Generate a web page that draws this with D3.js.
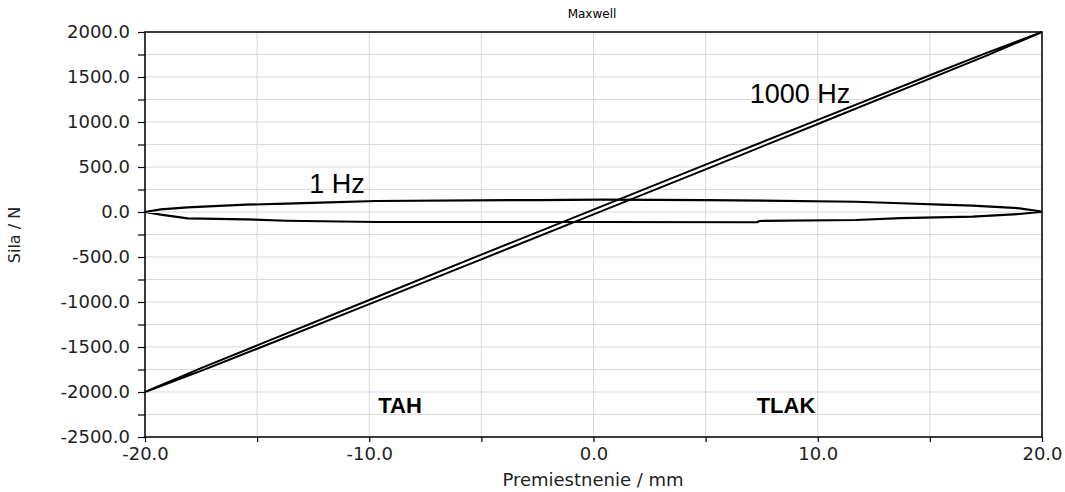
<!DOCTYPE html>
<html>
<head>
<meta charset="utf-8">
<script src="https://cdn.jsdelivr.net/npm/d3@7"></script>
<style>
  body { margin: 0; background: #fff; }
  svg { display: block; }
</style>
</head>
<body>
<svg id="chart" width="1065" height="492"></svg>
<script>
// 1 Hz loop (upper branch left->right, lower branch right->left)
const loop1Upper = [
  [-20, 0], [-19.3, 30], [-18.1, 52], [-15.5, 81], [-13.7, 92], [-11.8, 108],
  [-9.7, 122], [-2.5, 133], [0.3, 137], [5.0, 133], [11.7, 114], [13.7, 97],
  [15.5, 81], [16.9, 70], [19.0, 41], [19.9, 8], [20, 0]
];
const loop1Lower = [
  [20, 0], [19.9, 0], [19.0, -22], [16.9, -52], [13.7, -67], [11.7, -89],
  [7.4, -100], [7.3, -114], [0.3, -111], [-9.7, -111], [-13.7, -97],
  [-15.5, -81], [-18.1, -70], [-19.3, -30], [-20, 0]
];

// 1000 Hz loop: nearly a straight line with a thin opening
const loop1000Upper = [
  [-20, -2000], [-17.5, -1735], [-15, -1482], [-10, -978], [-5, -474],
  [0, 26], [5, 526], [10, 1024], [15, 1519], [17.5, 1765], [20, 2000]
];
const loop1000Lower = [
  [20, 2000], [17.5, 1735], [15, 1482], [10, 978], [5, 474],
  [0, -26], [-5, -526], [-10, -1024], [-15, -1519], [-17.5, -1765], [-20, -2000]
];

const xTicks = [-20, -10, 0, 10, 20];
const xMinor = [-15, -5, 5, 15];
const yTicks = [2000, 1500, 1000, 500, 0, -500, -1000, -1500, -2000, -2500];
const yMinor = [1750, 1250, 750, 250, -250, -750, -1250, -1750, -2250];

const annotations = [
  { text: "1000 Hz", x: 800, y: 103, size: 27, weight: "normal" },
  { text: "1 Hz", x: 337, y: 193, size: 27, weight: "normal" },
  { text: "TAH", x: 400, y: 413, size: 22, weight: "bold" },
  { text: "TLAK", x: 786, y: 413, size: 22, weight: "bold" }
];

const svg = d3.select("#chart");
const plotLeft = 145, plotRight = 1042, plotTop = 32, plotBottom = 437;

const x = d3.scaleLinear().domain([-20, 20]).range([plotLeft, plotRight]);
const y = d3.scaleLinear().domain([-2500, 2000]).range([plotBottom, plotTop]);

// plain hyphen minus, one decimal
const fmt = d => d.toFixed(1);

// grid lines
const grid = svg.append("g").attr("stroke", "#d9d9d9").attr("stroke-width", 1);
grid.selectAll(".gx")
  .data(xTicks.concat(xMinor))
  .enter().append("line")
  .attr("x1", d => x(d)).attr("x2", d => x(d))
  .attr("y1", plotTop).attr("y2", plotBottom);
grid.selectAll(".gy")
  .data(yTicks.concat(yMinor))
  .enter().append("line")
  .attr("x1", plotLeft).attr("x2", plotRight)
  .attr("y1", d => y(d)).attr("y2", d => y(d));

// frame
svg.append("rect")
  .attr("x", plotLeft).attr("y", plotTop)
  .attr("width", plotRight - plotLeft).attr("height", plotBottom - plotTop)
  .attr("fill", "none").attr("stroke", "#000").attr("stroke-width", 1.5);

// axes
const yAxis = d3.axisLeft(y).tickValues(yTicks).tickSize(7).tickPadding(8)
  .tickFormat(fmt);
svg.append("g").attr("transform", `translate(${plotLeft},0)`).call(yAxis);
svg.append("g").attr("transform", `translate(${plotLeft},0)`)
  .call(d3.axisLeft(y).tickValues(yMinor).tickSize(7).tickFormat(""));

const xAxis = d3.axisBottom(x).tickValues(xTicks).tickSize(5).tickPadding(5)
  .tickFormat(fmt);
svg.append("g").attr("transform", `translate(0,${plotBottom})`).call(xAxis);
svg.append("g").attr("transform", `translate(0,${plotBottom})`)
  .call(d3.axisBottom(x).tickValues(xMinor).tickSize(5).tickFormat(""));

svg.selectAll(".domain").remove();
svg.selectAll(".tick line").attr("stroke", "#000").attr("stroke-width", 1.2);
svg.selectAll(".tick text")
  .attr("fill", "#222")
  .style("font-family", "'DejaVu Sans', sans-serif")
  .style("font-size", "18px");

// curves
const line = d3.line().x(d => x(d[0])).y(d => y(d[1]));
svg.append("path")
  .attr("d", line(loop1Upper.concat(loop1Lower)))
  .attr("fill", "none").attr("stroke", "#000").attr("stroke-width", 2.2);
svg.append("path")
  .attr("d", line(loop1000Upper.concat(loop1000Lower)))
  .attr("fill", "none").attr("stroke", "#000").attr("stroke-width", 2);

// titles
svg.append("text")
  .attr("x", 592).attr("y", 18)
  .attr("text-anchor", "middle")
  .style("font-family", "'DejaVu Sans', sans-serif")
  .style("font-size", "12px")
  .text("Maxwell");

svg.append("text")
  .attr("x", 593).attr("y", 486)
  .attr("text-anchor", "middle")
  .attr("fill", "#222")
  .style("font-family", "'DejaVu Sans', sans-serif")
  .style("font-size", "18px")
  .text("Premiestnenie / mm");

svg.append("text")
  .attr("transform", "translate(20,235) rotate(-90)")
  .attr("text-anchor", "middle")
  .attr("fill", "#222")
  .style("font-family", "'DejaVu Sans', sans-serif")
  .style("font-size", "16px")
  .text("Sila / N");

svg.selectAll(".annot")
  .data(annotations)
  .enter().append("text")
  .attr("x", d => d.x).attr("y", d => d.y)
  .attr("text-anchor", "middle")
  .style("font-family", "'Liberation Sans', Arial, sans-serif")
  .style("font-size", d => d.size + "px")
  .style("font-weight", d => d.weight)
  .text(d => d.text);
</script>
</body>
</html>
